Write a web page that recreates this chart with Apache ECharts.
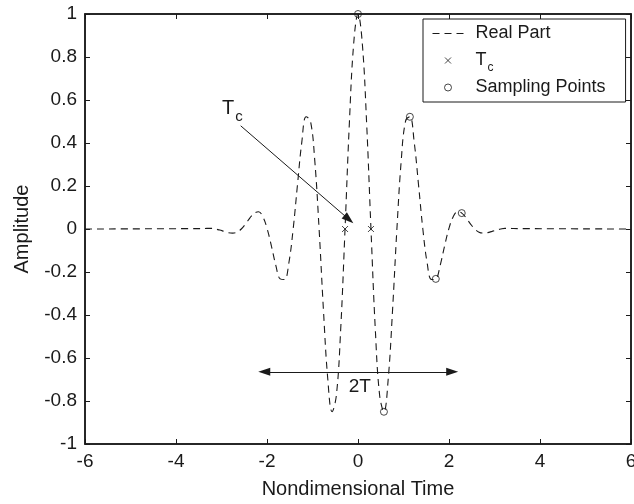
<!DOCTYPE html>
<html>
<head>
<meta charset="utf-8">
<script src="https://cdn.jsdelivr.net/npm/echarts@6/dist/echarts.min.js"></script>
<style>
html, body { margin: 0; padding: 0; background: #fff; }
#chart { width: 634px; height: 504px; }
</style>
</head>
<body>
<div id="chart"></div>
<script>
// axis ranges
var xMin = -6, xMax = 6, xStep = 2;
var yMin = -1, yMax = 1, yStep = 0.2;

// real part of the pulse
var timeValues = [-6,
    -3.42, -3.325, -3.23, -3.135, -3.04, -2.945, -2.85, -2.755, -2.66, -2.565,
    -2.47, -2.375, -2.28, -2.185, -2.09, -1.995, -1.9, -1.805, -1.71, -1.615,
    -1.52, -1.425, -1.33, -1.235, -1.14, -1.045, -0.95, -0.855, -0.76, -0.665,
    -0.57, -0.475, -0.38, -0.285, -0.19, -0.095, 0,
    0.095, 0.19, 0.285, 0.38, 0.475, 0.57, 0.665, 0.76, 0.855, 0.95,
    1.045, 1.14, 1.235, 1.33, 1.425, 1.52, 1.615, 1.71, 1.805, 1.9,
    1.995, 2.09, 2.185, 2.28, 2.375, 2.47, 2.565, 2.66, 2.755, 2.85,
    2.945, 3.04, 3.135, 3.23, 3.325, 3.42,
    6];
var realPart = [0,
    0.002, 0.003, 0.003, 0, -0.005, -0.011, -0.017, -0.019, -0.015, 0,
    0.024, 0.052, 0.074, 0.080, 0.056, 0, -0.082, -0.17, -0.232, -0.235,
    -0.158, 0, 0.206, 0.404, 0.522, 0.502, 0.318, 0, -0.375, -0.695,
    -0.85, -0.773, -0.465, 0, 0.491, 0.862, 1,
    0.862, 0.491, 0, -0.465, -0.773, -0.85, -0.695, -0.375, 0, 0.318,
    0.502, 0.522, 0.404, 0.206, 0, -0.158, -0.235, -0.232, -0.17, -0.082,
    0, 0.056, 0.080, 0.074, 0.052, 0.024, 0, -0.015, -0.019, -0.017,
    -0.011, -0.005, 0, 0.003, 0.003, 0.002,
    0];

// Tc markers
var tcTimes = [-0.285, 0.285];
var tcValues = [0, 0];

// sampling points
var sampleTimes = [0, 0.57, 1.14, 1.71, 2.28];
var sampleValues = [1, -0.85, 0.522, -0.232, 0.074];

var ink = '#1a1a1a';
var font = 'Liberation Sans, Arial, Helvetica, sans-serif';

function pairs(xs, ys) {
    var out = [];
    for (var i = 0; i < xs.length; i++) {
        out.push([xs[i], ys[i]]);
    }
    return out;
}

// legend icons: invisible moves keep the box size so the marks stay small
var dashIcon = 'path://M0,0M33,14M1,7L8,7M13,7L20,7M25,7L32,7';
var crossIcon = 'path://M0,0M14,14M4,4L10,10M10,4L4,10';
var ringIcon = 'path://M0,0M14,14M10.5,7A3.5,3.5,0,1,1,3.5,7A3.5,3.5,0,1,1,10.5,7Z';

var myChart = echarts.init(document.getElementById('chart'));

function valueAxis(pos, show) {
    var horiz = pos == 'top' || pos == 'bottom';
    return {
        type: 'value',
        position: pos,
        min: horiz ? xMin : yMin,
        max: horiz ? xMax : yMax,
        interval: horiz ? xStep : yStep,
        splitLine: { show: false },
        axisLine: { show: true, onZero: false, lineStyle: { color: ink, width: 1.5 } },
        axisTick: { show: true, inside: true, length: 5, lineStyle: { color: ink, width: 1 } },
        axisLabel: { show: show, color: ink, fontSize: 19, fontFamily: font, margin: 8 }
    };
}

var xBottom = valueAxis('bottom', true);
xBottom.name = 'Nondimensional Time';
xBottom.nameLocation = 'middle';
xBottom.nameGap = 35;
xBottom.nameTextStyle = { color: ink, fontSize: 20, fontFamily: font };

var yLeft = valueAxis('left', true);
yLeft.name = 'Amplitude';
yLeft.nameLocation = 'middle';
yLeft.nameGap = 53;
yLeft.nameTextStyle = { color: ink, fontSize: 20, fontFamily: font };

var xTop = valueAxis('top', false);
var yRight = valueAxis('right', false);

var option = {
    animation: false,
    backgroundColor: '#fff',
    grid: {
        left: 85, right: 3, top: 14, bottom: 60,
        containLabel: false, outerBoundsMode: 'none',
        show: true, borderColor: ink, borderWidth: 1.5, backgroundColor: 'transparent'
    },
    xAxis: [xBottom, xTop],
    yAxis: [yLeft, yRight],
    legend: {
        orient: 'vertical',
        left: 423,
        top: 19,
        padding: [5, 20, 5, 6],
        itemWidth: 33,
        itemHeight: 14,
        itemGap: 4.5,
        borderColor: ink,
        borderWidth: 1,
        backgroundColor: '#fff',
        selectedMode: false,
        itemStyle: { color: 'none', borderColor: ink, borderWidth: 1 },
        data: [
            { name: 'Real Part', icon: dashIcon },
            { name: 'Tc', icon: crossIcon },
            { name: 'Sampling Points', icon: ringIcon }
        ],
        formatter: function (name) {
            if (name == 'Tc') return '{t|T}{c|c}';
            return '{n|' + name + '}';
        },
        textStyle: {
            color: ink,
            fontFamily: font,
            rich: {
                n: { fontSize: 18, lineHeight: 20, padding: [0, 0, 0, 6], fontFamily: font, color: ink },
                t: { fontSize: 18, lineHeight: 20, padding: [0, 0, 0, 6], fontFamily: font, color: ink },
                c: { fontSize: 12, lineHeight: 6, padding: [14, 0, 0, 1], fontFamily: font, color: ink }
            }
        }
    },
    series: [{
        name: 'Real Part',
        type: 'line',
        data: pairs(timeValues, realPart),
        symbol: 'none',
        smooth: 0.4,
        itemStyle: { color: ink, borderColor: ink },
        lineStyle: { color: ink, width: 1.1, type: [7, 5] },
        z: 2,
        markLine: {
            silent: true,
            animation: false,
            symbolSize: [8, 12],
            label: { show: false },
            lineStyle: { color: ink, width: 1, type: 'solid' },
            data: [
                // 2T span arrow
                [{ coord: [-2.06, -0.664], symbol: 'triangle' }, { coord: [2.07, -0.664], symbol: 'triangle' }],
                // arrow pointing at Tc
                [{ coord: [-2.578, 0.48], symbol: 'none' }, { coord: [-0.202, 0.045], symbol: 'triangle' }]
            ]
        }
    }, {
        name: 'Tc',
        type: 'scatter',
        data: pairs(tcTimes, tcValues),
        symbol: 'path://M0,0L10,10M10,0L0,10',
        symbolSize: 6,
        itemStyle: { color: 'none', borderColor: ink, borderWidth: 1 },
        z: 3
    }, {
        name: 'Sampling Points',
        type: 'scatter',
        data: pairs(sampleTimes, sampleValues),
        symbol: 'circle',
        symbolSize: 7,
        clip: false,
        itemStyle: { color: 'none', borderColor: ink, borderWidth: 1 },
        z: 3
    }]
};
myChart.setOption(option);

// text annotations placed in data space
var tcLabel = myChart.convertToPixel({ gridIndex: 0 }, [-2.99, 0.56]);
var spanLabel = myChart.convertToPixel({ gridIndex: 0 }, [0.04, -0.735]);
myChart.setOption({
    graphic: [{
        type: 'text',
        x: tcLabel[0],
        y: tcLabel[1],
        silent: true,
        style: {
            text: '{t|T}{c|c}',
            align: 'left',
            verticalAlign: 'middle',
            rich: {
                t: { fontSize: 20, lineHeight: 22, fontFamily: font, fill: ink },
                c: { fontSize: 15, lineHeight: 6, padding: [16, 0, 0, 1], fontFamily: font, fill: ink }
            }
        }
    }, {
        type: 'text',
        x: spanLabel[0],
        y: spanLabel[1],
        silent: true,
        style: {
            text: '2T',
            align: 'center',
            verticalAlign: 'middle',
            fontSize: 19,
            fontFamily: font,
            fill: ink
        }
    }]
});
</script>
</body>
</html>
